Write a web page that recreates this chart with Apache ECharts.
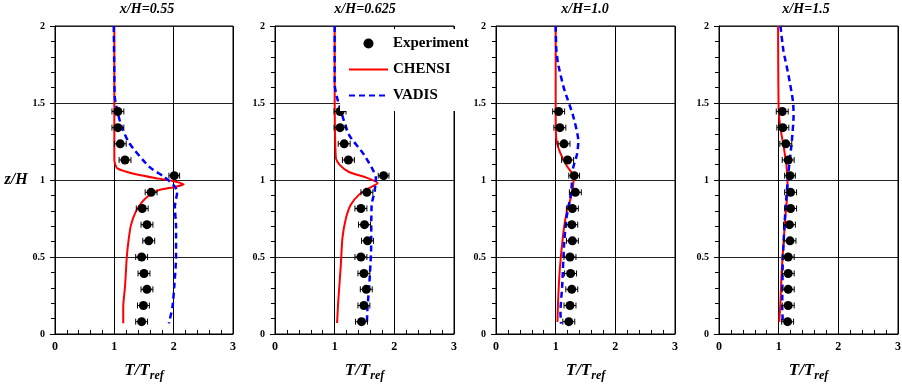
<!DOCTYPE html>
<html>
<head>
<meta charset="utf-8">
<script src="https://cdn.jsdelivr.net/npm/echarts@6/dist/echarts.min.js"></script>
<style>
html,body{margin:0;padding:0;background:#fff;}
#chart{width:902px;height:384px;}
</style>
</head>
<body>
<div id="chart"></div>
<script>
// ---------------- DATA ----------------
var panelTitles = ['x/H=0.55', 'x/H=0.625', 'x/H=1.0', 'x/H=1.5'];
var xTicks = [0, 1, 2, 3];
var yTicks = [0, 0.5, 1, 1.5, 2];

// heights of the measurement points (z/H)
var zExp = [1.445, 1.34, 1.235, 1.13, 1.028, 0.92, 0.815, 0.71, 0.605, 0.5, 0.393, 0.29, 0.185, 0.08];
// half width of the horizontal error bars (T/Tref)
var errExp = [0.1, 0.1, 0.1, 0.1, 0.09, 0.1, 0.1, 0.1, 0.1, 0.1, 0.1, 0.1, 0.1, 0.1];

// Experiment T/Tref per panel
var exp055 = [1.06, 1.06, 1.10, 1.18, 2.01, 1.62, 1.47, 1.55, 1.58, 1.46, 1.50, 1.55, 1.49, 1.46];
var exp0625 = [1.09, 1.09, 1.16, 1.23, 1.82, 1.54, 1.44, 1.50, 1.55, 1.44, 1.49, 1.53, 1.49, 1.45];
var exp10 = [1.05, 1.07, 1.14, 1.20, 1.31, 1.33, 1.28, 1.27, 1.28, 1.24, 1.25, 1.27, 1.24, 1.22];
var exp15 = [1.06, 1.07, 1.12, 1.16, 1.19, 1.20, 1.20, 1.18, 1.19, 1.16, 1.16, 1.16, 1.16, 1.15];

// CHENSI profiles [T/Tref, z/H]
var chensi055 = [[1.0,2.0],[1.0,1.6],[1.0,1.13],[1.05,1.075],[1.36,1.037],[1.75,1.009],[1.98,0.994],[2.17,0.973],[2.02,0.955],[1.75,0.934],[1.59,0.901],[1.47,0.858],[1.36,0.793],[1.28,0.707],[1.24,0.61],[1.21,0.5],[1.18,0.307],[1.15,0.177],[1.15,0.069]];
var chensi0625 = [[1.0,2.0],[1.0,1.6],[1.02,1.143],[1.08,1.10],[1.24,1.052],[1.52,1.017],[1.72,0.98],[1.58,0.948],[1.41,0.905],[1.27,0.84],[1.19,0.753],[1.13,0.623],[1.10,0.429],[1.06,0.212],[1.04,0.071]];
var chensi10 = [[1.0,2.0],[1.0,1.463],[1.01,1.268],[1.07,1.182],[1.18,1.095],[1.26,1.052],[1.30,1.009],[1.29,0.955],[1.25,0.879],[1.19,0.803],[1.13,0.662],[1.07,0.424],[1.04,0.208],[1.03,0.078]];
var chensi15 = [[0.99,2.0],[1.0,1.46],[1.03,1.335],[1.08,1.227],[1.13,1.097],[1.15,0.968],[1.14,0.881],[1.11,0.752],[1.08,0.579],[1.05,0.406],[1.03,0.212],[1.01,0.078]];

// VADIS profiles [T/Tref, z/H]
var vadis055 = [[0.99,2.0],[1.0,1.7],[1.01,1.53],[1.11,1.36],[1.25,1.24],[1.59,1.085],[1.84,1.02],[2.0,0.966],[2.06,0.923],[2.02,0.826],[2.04,0.696],[2.04,0.5],[2.01,0.307],[1.98,0.177],[1.92,0.069]];
var vadis0625 = [[1.0,2.0],[1.0,1.62],[1.05,1.52],[1.24,1.294],[1.49,1.165],[1.69,1.013],[1.67,0.926],[1.62,0.84],[1.61,0.537],[1.58,0.32],[1.55,0.169],[1.54,0.07]];
var vadis10 = [[1.0,2.0],[1.01,1.853],[1.04,1.755],[1.14,1.593],[1.29,1.42],[1.38,1.253],[1.36,1.171],[1.29,1.074],[1.26,0.922],[1.18,0.749],[1.14,0.576],[1.11,0.316],[1.08,0.143],[1.09,0.067]];
var vadis15 = [[1.03,2.0],[1.08,1.84],[1.165,1.68],[1.24,1.51],[1.25,1.42],[1.22,1.25],[1.165,1.054],[1.115,0.816],[1.07,0.49],[1.06,0.168],[1.07,0.07]];

// ---------------- LAYOUT ----------------
var expSets = [exp055, exp0625, exp10, exp15];
var chensiSets = [chensi055, chensi0625, chensi10, chensi15];
var vadisSets = [vadis055, vadis0625, vadis10, vadis15];
var gridLefts = [55, 275, 496, 719];
var gridWidths = [178, 179, 179, 179];
var titleCenters = [147, 365, 585, 806];
var FONT = '"Liberation Serif", "Times New Roman", serif';

var grids = [], xAxes = [], yAxes = [], series = [], graphics = [];
for (var i = 0; i < 4; i++) {
  grids.push({
    left: gridLefts[i], width: gridWidths[i], top: 26, height: 308,
    outerBoundsMode: 'none', containLabel: false,
    show: true, borderColor: '#000', borderWidth: 1, backgroundColor: 'rgba(0,0,0,0)'
  });
  xAxes.push({
    gridIndex: i, type: 'value', position: 'bottom', min: xTicks[0], max: xTicks[xTicks.length - 1], interval: 1,
    name: '{a|T/T}{b|ref}', nameLocation: 'middle', nameGap: 26,
    nameTextStyle: {
      rich: {
        a: {fontFamily: FONT, fontSize: 17, fontWeight: 'bold', fontStyle: 'italic', color: '#000'},
        b: {fontFamily: FONT, fontSize: 12, fontWeight: 'bold', fontStyle: 'italic', color: '#000', padding: [10, 0, 0, 0]}
      }
    },
    axisLine: {show: true, onZero: false, lineStyle: {color: '#000', width: 1}},
    axisTick: {show: true, inside: true, length: 4, lineStyle: {color: '#000'}},
    minorTick: {show: true, splitNumber: 5, length: 4, lineStyle: {color: '#000'}},
    axisLabel: {fontFamily: FONT, fontSize: 12, fontWeight: 'bold', color: '#000', margin: 7},
    splitLine: {show: true, lineStyle: {color: '#000', width: 1}}
  });
  yAxes.push({
    gridIndex: i, type: 'value', position: 'left', min: yTicks[0], max: yTicks[yTicks.length - 1], interval: 0.5,
    name: i === 0 ? 'z/H' : '', nameLocation: 'middle', nameRotate: 0, nameGap: 21,
    nameTextStyle: {fontFamily: FONT, fontSize: 16, fontWeight: 'bold', fontStyle: 'italic', color: '#000'},
    axisLine: {show: true, onZero: false, lineStyle: {color: '#000', width: 1}},
    axisTick: {show: true, inside: false, length: 5, lineStyle: {color: '#000'}},
    minorTick: {show: true, splitNumber: 5, length: 4, lineStyle: {color: '#000'}},
    axisLabel: {fontFamily: FONT, fontSize: 10, fontWeight: 'bold', color: '#000', margin: 10},
    splitLine: {show: true, lineStyle: {color: '#222', width: 1}}
  });

  series.push({
    name: 'CHENSI', type: 'line', xAxisIndex: i, yAxisIndex: i,
    data: chensiSets[i], symbol: 'none', showSymbol: false, smooth: 0.2,
    lineStyle: {color: '#ff0000', width: 2}, itemStyle: {color: '#ff0000'}, z: 3
  });
  series.push({
    name: 'VADIS', type: 'line', xAxisIndex: i, yAxisIndex: i,
    data: vadisSets[i], symbol: 'none', showSymbol: false, smooth: 0.2,
    lineStyle: {color: '#0000ff', width: 2.5, type: [6, 4]}, itemStyle: {color: '#0000ff'}, z: 3
  });
  var ebData = [], scData = [];
  for (var k = 0; k < zExp.length; k++) {
    ebData.push([expSets[i][k], zExp[k], errExp[k]]);
    scData.push([expSets[i][k], zExp[k]]);
  }
  series.push({
    type: 'custom', xAxisIndex: i, yAxisIndex: i, data: ebData, z: 4, silent: true,
    renderItem: function (params, api) {
      var x = api.value(0), y = api.value(1), e = api.value(2);
      var l = api.coord([x - e, y]), r = api.coord([x + e, y]);
      var st = {stroke: '#000', lineWidth: 1, fill: null};
      return {type: 'group', children: [
        {type: 'line', shape: {x1: l[0], y1: l[1], x2: r[0], y2: r[1]}, style: st},
        {type: 'line', shape: {x1: l[0], y1: l[1] - 3, x2: l[0], y2: l[1] + 3}, style: st},
        {type: 'line', shape: {x1: r[0], y1: r[1] - 3, x2: r[0], y2: r[1] + 3}, style: st}
      ]};
    }
  });
  series.push({
    name: 'Experiment', type: 'scatter', xAxisIndex: i, yAxisIndex: i,
    data: scData, symbol: 'circle', symbolSize: 9, itemStyle: {color: '#000', opacity: 1}, z: 5
  });

  graphics.push({
    type: 'text', x: titleCenters[i], y: 2,
    style: {text: panelTitles[i], textAlign: 'center', font: 'italic bold 14px ' + FONT, fill: '#000'}
  });
}

var chart = echarts.init(document.getElementById('chart'), null, {renderer: 'canvas'});
chart.setOption({
  animation: false,
  backgroundColor: '#fff',
  grid: grids,
  xAxis: xAxes,
  yAxis: yAxes,
  legend: {
    data: [
      {name: 'Experiment'},
      {name: 'CHENSI', itemStyle: {color: 'rgba(0,0,0,0)', borderWidth: 0}},
      {name: 'VADIS', itemStyle: {color: 'rgba(0,0,0,0)', borderWidth: 0}}
    ],
    orient: 'vertical', left: 340, top: 29,
    padding: [7, 5, 8, 8],
    itemWidth: 39, itemHeight: 10, itemGap: 11,
    backgroundColor: '#fff',
    textStyle: {fontFamily: FONT, fontSize: 15, fontWeight: 'bold', color: '#000', lineHeight: 10},
    z: 10
  },
  graphic: graphics,
  series: series
});
</script>
</body>
</html>
